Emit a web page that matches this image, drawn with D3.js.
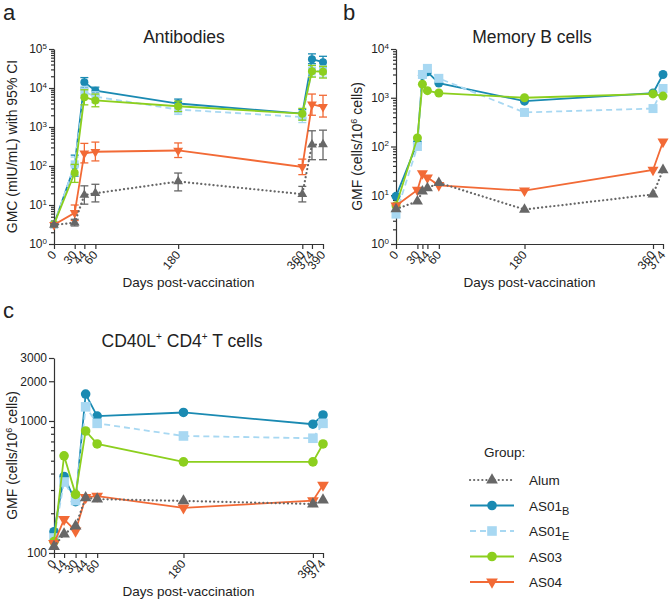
<!DOCTYPE html>
<html>
<head>
<meta charset="utf-8">
<script src="https://cdn.jsdelivr.net/npm/d3@7"></script>
<style>
  body { margin: 0; background: #fff; }
  text { font-family: "Liberation Sans", Arial, sans-serif; fill: #222; }
</style>
</head>
<body>
<svg id="fig" width="669" height="599"></svg>
<script>
// ---- datos ----
const groups = ["AS01B", "AS01E", "AS03", "AS04", "Alum"];

// a) Antibodies, GMC con IC 95%
const abDays = [0, 30, 44, 60, 180, 360, 374, 390];
const abLabels = ["0", "30", "44", "60", "180", "360", "374", "390"];
const abAS01B = [3.2, 105, 14000, 8500, 4000, 2200, 55000, 46000];
const abAS01BLo = [3.0, 55, 10000, 6500, 3000, 1700, 42000, 34000];
const abAS01BHi = [3.5, 190, 18500, 10500, 5200, 2800, 75000, 65000];
const abAS01E = [3.1, 110, 8000, 6000, 2800, 1800, 28000, 27000];
const abAS01ELo = [2.9, 60, 5500, 4200, 2100, 1300, 20000, 19000];
const abAS01EHi = [3.4, 170, 11000, 8000, 3800, 2500, 38000, 37000];
const abAS03 = [3.2, 67, 5800, 4800, 3400, 2200, 27000, 26000];
const abAS03Lo = [2.9, 38, 3700, 3300, 2500, 1500, 19000, 18000];
const abAS03Hi = [3.5, 110, 9000, 7000, 4600, 3000, 38000, 36000];
const abAS04 = [3.1, 6.3, 210, 232, 250, 95, 3800, 3300];
const abAS04Lo = [2.9, 4, 120, 135, 165, 60, 2000, 1800];
const abAS04Hi = [3.4, 10, 380, 410, 390, 150, 7000, 6500];
const abAlum = [3.1, 3.5, 18, 20, 40, 19, 350, 360];
const abAlumLo = [2.9, 2.9, 10.5, 12, 23, 12, 145, 145];
const abAlumHi = [3.3, 4.3, 31, 34, 66, 30, 800, 830];

// b) Memory B cells, GMF
const mbDays = [0, 30, 37, 44, 60, 180, 360, 374];
const mbLabels = ["0", "30", "", "44", "60", "180", "360", "374"];
const mbAS01B = [9.5, 120, 2900, 3400, 2000, 850, 1250, 3000];
const mbAS01E = [4.1, 100, 3000, 4000, 2500, 500, 600, 1550];
const mbAS03 = [6.1, 150, 1900, 1400, 1250, 1000, 1200, 1080];
const mbAS04 = [6.1, 12.8, 28, 23, 16, 12.4, 33, 125];
const mbAlum = [5.2, 7.5, 12, 14, 18, 5.1, 10.4, 33];

// c) CD40L+ CD4+ T cells, GMF
const tcDays = [0, 14, 30, 44, 60, 180, 360, 374];
const tcLabels = ["0", "14", "30", "44", "60", "180", "360", "374"];
const tcAS01B = [145, 380, 245, 1600, 1090, 1160, 945, 1110];
const tcAS01E = [130, 345, 250, 1280, 960, 770, 740, 960];
const tcAS03 = [122, 545, 278, 840, 670, 490, 490, 670];
const tcAS04 = [118, 180, 147, 264, 270, 220, 249, 327];
const tcAlum = [112, 139, 160, 262, 256, 248, 235, 252];

// ---- estilos por grupo ----
const colors = { Alum: "#676767", AS01B: "#1a8ab2", AS01E: "#a8d8f2", AS03: "#8ccf1e", AS04: "#f26a36" };
const dashes = { Alum: "0.1,4", AS01B: null, AS01E: "6,4", AS03: null, AS04: null };
const shapes = { Alum: "up", AS01B: "circle", AS01E: "square", AS03: "circle", AS04: "down" };

const svg = d3.select("#fig");

function marker(sel, group, size) {
  const s = shapes[group];
  if (s === "circle") {
    sel.append("circle").attr("r", size).attr("fill", colors[group]);
  } else if (s === "square") {
    sel.append("rect").attr("x", -size).attr("y", -size)
      .attr("width", size * 2).attr("height", size * 2).attr("fill", colors[group]);
  } else {
    const a = size * size * 2.6;
    sel.append("path").attr("d", d3.symbol(d3.symbolTriangle, a)())
      .attr("transform", s === "down" ? "rotate(180)" : null)
      .attr("fill", colors[group]);
  }
}

function lineStyle(sel, group) {
  sel.attr("fill", "none").attr("stroke", colors[group]).attr("stroke-width", 1.8)
    .attr("stroke-dasharray", dashes[group])
    .attr("stroke-linecap", group === "Alum" ? "round" : "butt");
  if (group === "Alum") sel.attr("stroke-width", 2.2);
}

// texto con superíndices: partes {t, sup}
function richText(sel, parts, supSize, shift) {
  parts.forEach(p => {
    const ts = sel.append("tspan").text(p.t);
    if (p.sup) ts.attr("font-size", supSize).attr("dy", -shift);
    if (p.back) ts.attr("dy", shift);
  });
}

function drawPanel(opt) {
  const x = d3.scaleLinear().domain([0, opt.xMax]).range(opt.xr);
  const y = d3.scaleLog().domain(opt.yDom).range(opt.yr);
  const g = svg.append("g");

  // eje Y: menores y mayores
  g.append("g").attr("transform", `translate(${opt.xr[0]},0)`)
    .call(d3.axisLeft(y).tickValues(opt.yMinor).tickSize(3).tickFormat(""))
    .call(s => s.select(".domain").remove());
  const ya = g.append("g").attr("transform", `translate(${opt.xr[0]},0)`)
    .call(d3.axisLeft(y).tickValues(opt.yMajor).tickSize(5).tickSizeOuter(0).tickFormat(opt.yFmt));
  ya.selectAll(".tick text").attr("font-size", "12px").attr("x", -7);
  if (opt.pow) {
    ya.selectAll(".tick text").each(function (d) {
      const t = d3.select(this).text("10");
      t.append("tspan").attr("dy", "-0.55em").attr("font-size", "8px").text(Math.round(Math.log10(d)));
    });
  }

  // eje X
  const xa = g.append("g").attr("transform", `translate(0,${opt.yr[0]})`)
    .call(d3.axisBottom(x).tickValues(opt.days).tickSize(5).tickSizeOuter(0)
      .tickFormat((d, i) => opt.labels[i]));
  xa.selectAll(".tick text")
    .attr("font-size", "12px").attr("y", 0).attr("dy", 0)
    .attr("text-anchor", "end").attr("dominant-baseline", "middle")
    .attr("transform", "translate(0,9) rotate(-50)");

  g.selectAll(".domain, .tick line").attr("stroke", "#333").attr("stroke-width", 1.2);
  g.selectAll(".tick text").attr("fill", "#222");

  // series
  groups.forEach(grp => {
    const vals = opt.series[grp];
    const pts = opt.days.map((d, i) => ({ d, v: vals[i], i }));
    const sg = g.append("g");
    if (opt.err) {
      const lo = opt.err[grp][0], hi = opt.err[grp][1];
      const eb = sg.selectAll("g.eb").data(pts).enter().append("g")
        .attr("stroke", colors[grp]).attr("stroke-width", 1.3);
      eb.append("line").attr("x1", p => x(p.d)).attr("x2", p => x(p.d))
        .attr("y1", p => y(lo[p.i])).attr("y2", p => y(hi[p.i]));
      eb.append("line").attr("x1", p => x(p.d) - 4).attr("x2", p => x(p.d) + 4)
        .attr("y1", p => y(lo[p.i])).attr("y2", p => y(lo[p.i]));
      eb.append("line").attr("x1", p => x(p.d) - 4).attr("x2", p => x(p.d) + 4)
        .attr("y1", p => y(hi[p.i])).attr("y2", p => y(hi[p.i]));
    }
    sg.append("path").datum(pts)
      .attr("d", d3.line().x(p => x(p.d)).y(p => y(p.v)))
      .call(lineStyle, grp);
    sg.selectAll("g.m").data(pts).enter().append("g")
      .attr("transform", p => `translate(${x(p.d)},${y(p.v)})`)
      .each(function () { marker(d3.select(this), grp, opt.mSize); });
  });

  // títulos
  const cx = (opt.xr[0] + opt.xr[1]) / 2;
  const tt = svg.append("text").attr("x", opt.titleX || cx).attr("y", opt.titleY)
    .attr("text-anchor", "middle").attr("font-size", "17.5px");
  richText(tt, opt.title, "10px", 7);
  svg.append("text").attr("x", cx).attr("y", opt.yr[0] + 43)
    .attr("text-anchor", "middle").attr("font-size", "13.5px").text("Days post-vaccination");
  const yl = svg.append("text")
    .attr("transform", `translate(${opt.ylX},${(opt.yr[0] + opt.yr[1]) / 2}) rotate(-90)`)
    .attr("text-anchor", "middle").attr("font-size", "14px");
  richText(yl, opt.ylab, "9px", 5);
  svg.append("text").attr("x", opt.tag[0]).attr("y", opt.tag[1])
    .attr("font-size", "22px").text(opt.tag[2]);
}

function minorTicks(lo, hi) {
  const out = [];
  for (let e = lo; e < hi; e++) for (let k = 2; k <= 9; k++) out.push(k * Math.pow(10, e));
  return out;
}

const gmfLab = [{ t: "GMF (cells/10" }, { t: "6", sup: true }, { t: " cells)", back: true }];

drawPanel({
  xr: [54, 323], xMax: 390, yr: [244, 49], yDom: [1, 1e5],
  yMajor: [1, 10, 100, 1e3, 1e4, 1e5], yMinor: minorTicks(0, 5), yFmt: "", pow: true,
  days: abDays, labels: abLabels, mSize: 4,
  series: { AS01B: abAS01B, AS01E: abAS01E, AS03: abAS03, AS04: abAS04, Alum: abAlum },
  err: {
    AS01B: [abAS01BLo, abAS01BHi], AS01E: [abAS01ELo, abAS01EHi], AS03: [abAS03Lo, abAS03Hi],
    AS04: [abAS04Lo, abAS04Hi], Alum: [abAlumLo, abAlumHi]
  },
  title: [{ t: "Antibodies" }], titleX: 184, titleY: 43,
  ylab: [{ t: "GMC (mIU/mL) with 95% CI" }], ylX: 17, tag: [3, 20, "a"]
});

drawPanel({
  xr: [396, 663], xMax: 374, yr: [244, 49], yDom: [1, 1e4],
  yMajor: [1, 10, 100, 1e3, 1e4], yMinor: minorTicks(0, 4), yFmt: "", pow: true,
  days: mbDays, labels: mbLabels, mSize: 4.5,
  series: { AS01B: mbAS01B, AS01E: mbAS01E, AS03: mbAS03, AS04: mbAS04, Alum: mbAlum },
  title: [{ t: "Memory B cells" }], titleX: 532, titleY: 43,
  ylab: gmfLab, ylX: 362, tag: [343, 20, "b"]
});

drawPanel({
  xr: [54, 323], xMax: 374, yr: [553, 358], yDom: [100, 3000],
  yMajor: [100, 1000, 2000, 3000], yMinor: [200, 300, 400, 500, 600, 700, 800, 900],
  yFmt: d3.format("d"), pow: false,
  days: tcDays, labels: tcLabels, mSize: 4.8,
  series: { AS01B: tcAS01B, AS01E: tcAS01E, AS03: tcAS03, AS04: tcAS04, Alum: tcAlum },
  title: [{ t: "CD40L" }, { t: "+", sup: true }, { t: " CD4", back: true }, { t: "+", sup: true }, { t: " T cells", back: true }],
  titleX: 182, titleY: 347,
  ylab: gmfLab, ylX: 17, tag: [3, 318, "c"]
});

// ---- leyenda ----
const legOrder = ["Alum", "AS01B", "AS01E", "AS03", "AS04"];
const legY = d3.scalePoint().domain(legOrder).range([480, 582]);
const leg = svg.append("g");
leg.append("text").attr("x", 484).attr("y", 457).attr("font-size", "13.5px").text("Group:");
legOrder.forEach(grp => {
  const row = leg.append("g").attr("transform", `translate(0,${legY(grp)})`);
  row.append("line").attr("x1", 470).attr("x2", 514).attr("y1", 0).attr("y2", 0).call(lineStyle, grp);
  const m = row.append("g").attr("transform", "translate(492,0)");
  marker(m, grp, 4.8);
  const t = row.append("text").attr("x", 529).attr("y", 5).attr("font-size", "13.5px");
  if (grp.startsWith("AS01")) {
    t.append("tspan").text("AS01");
    t.append("tspan").attr("font-size", "11px").attr("dy", 4).text(grp.slice(4));
  } else {
    t.text(grp);
  }
});
</script>
</body>
</html>
